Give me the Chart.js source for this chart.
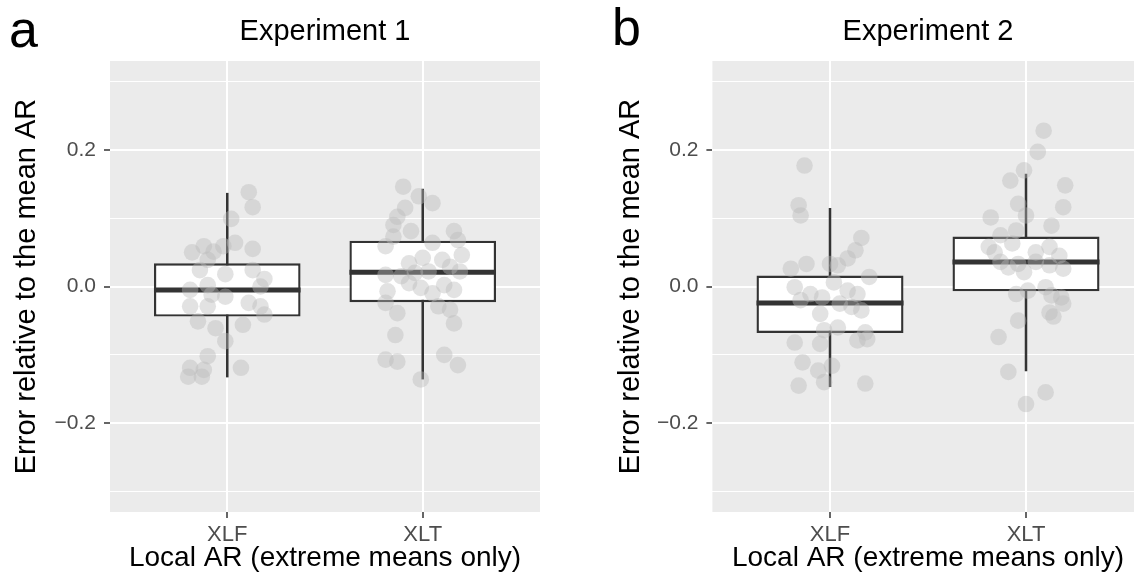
<!DOCTYPE html>
<html>
<head>
<meta charset="utf-8">
<script src="https://cdn.jsdelivr.net/npm/chart.js@4.4.1/dist/chart.umd.min.js"></script>
<style>
  html, body { margin: 0; padding: 0; background: #ffffff; overflow: hidden; width: 1134px; height: 579px; }
  .wrap { position: relative; width: 1134px; height: 579px; overflow: hidden; }
  canvas { position: absolute; top: 0; }
  .tag { position: absolute; font-family: 'Liberation Sans', Arial, Helvetica, sans-serif; font-size: 52px; line-height: 1; color: #000; }
</style>
</head>
<body>
<div class="wrap">
  <div class="tag" style="left:9px; top:3px;">a</div>
  <div class="tag" style="left:612px; top:1px;">b</div>
  <canvas id="chartA" width="560" height="579" style="left:0px;"></canvas>
  <canvas id="chartB" width="560" height="579" style="left:600px;"></canvas>
</div>
<script>
// ---------------- DATA ----------------
const categories = ['XLF', 'XLT'];
const yTickValues = [-0.3, -0.2, -0.1, 0.0, 0.1, 0.2, 0.3];
const yTickLabels = ['', '\u22120.2', '', '0.0', '', '0.2', ''];
const panelTitles = ['Experiment 1', 'Experiment 2'];
const xAxisTitle = 'Local AR (extreme means only)';
const yAxisTitle = 'Error relative to the mean AR';

// Box statistics: [lower whisker, Q1, median, Q3, upper whisker]
const exp1XLFStats = [-0.133, -0.044, -0.005, 0.034, 0.137];
const exp1XLTStats = [-0.136, -0.023, 0.021, 0.067, 0.143];
const exp2XLFStats = [-0.147, -0.068, -0.024, 0.016, 0.115];
const exp2XLTStats = [-0.124, -0.007, 0.036, 0.073, 0.165];

// Individual (jittered) points: values and horizontal jitter
const exp1XLFValues = [0.138, 0.116, 0.099, 0.050, 0.059, 0.051, 0.059, 0.064, 0.055, 0.039, 0.024, 0.018, 0.024, 0.011, 0.000, -0.005, 0.002, -0.012, -0.015, -0.029, -0.029, -0.024, -0.029, -0.041, -0.051, -0.061, -0.056, -0.080, -0.102, -0.119, -0.122, -0.132, -0.132, -0.119];
const exp1XLFJitter = [0.11, 0.13, 0.02, -0.18, -0.12, -0.07, -0.02, 0.04, 0.13, -0.10, -0.14, -0.01, 0.13, 0.19, 0.17, -0.19, -0.10, -0.08, -0.01, -0.19, -0.10, 0.11, 0.17, 0.19, -0.15, -0.06, 0.08, -0.01, -0.10, -0.19, -0.12, -0.20, -0.13, 0.07];

const exp1XLTValues = [0.146, 0.132, 0.122, 0.115, 0.102, 0.090, 0.081, 0.073, 0.081, 0.068, 0.059, 0.064, 0.046, 0.042, 0.039, 0.034, 0.029, 0.022, 0.017, 0.015, 0.020, 0.022, 0.005, 0.002, -0.005, -0.007, -0.002, -0.010, -0.024, -0.029, -0.034, -0.039, -0.054, -0.071, -0.107, -0.110, -0.100, -0.115, -0.136];
const exp1XLTJitter = [-0.10, -0.02, 0.05, -0.09, -0.13, -0.15, -0.06, -0.15, 0.16, 0.18, -0.19, 0.05, 0.20, 0.00, 0.10, -0.07, 0.14, 0.19, -0.19, -0.11, -0.04, 0.03, -0.07, 0.11, 0.16, -0.18, -0.01, 0.05, -0.19, 0.08, 0.14, -0.13, 0.16, -0.14, -0.19, -0.13, 0.11, 0.18, -0.01];

const exp2XLFValues = [0.177, 0.119, 0.104, 0.071, 0.053, 0.041, 0.033, 0.026, 0.033, 0.031, 0.014, 0.006, -0.001, -0.011, -0.016, -0.006, -0.011, -0.020, -0.025, -0.030, -0.035, -0.040, -0.060, -0.064, -0.067, -0.082, -0.084, -0.079, -0.077, -0.111, -0.123, -0.116, -0.140, -0.145, -0.142];
const exp2XLFJitter = [-0.13, -0.16, -0.15, 0.16, 0.13, 0.09, -0.12, -0.20, 0.00, 0.04, 0.20, 0.02, -0.18, -0.10, -0.04, 0.09, 0.14, -0.15, 0.05, 0.11, 0.16, -0.05, 0.04, -0.03, 0.18, -0.18, -0.05, 0.14, 0.19, -0.14, -0.06, 0.01, -0.03, -0.16, 0.18];

const exp2XLTValues = [0.228, 0.197, 0.170, 0.155, 0.148, 0.116, 0.121, 0.101, 0.104, 0.089, 0.082, 0.075, 0.058, 0.050, 0.063, 0.058, 0.050, 0.045, 0.036, 0.033, 0.036, 0.031, 0.026, 0.028, 0.021, -0.001, -0.011, -0.006, -0.013, -0.016, -0.025, -0.038, -0.044, -0.050, -0.074, -0.125, -0.155, -0.172];
const exp2XLTJitter = [0.09, 0.06, -0.01, -0.08, 0.20, 0.19, -0.04, -0.18, 0.00, 0.13, -0.05, -0.13, -0.19, -0.16, -0.07, 0.12, 0.05, 0.17, -0.13, -0.04, 0.05, 0.12, 0.19, -0.09, -0.01, 0.10, -0.05, 0.01, 0.13, 0.18, 0.19, 0.12, 0.14, -0.04, -0.14, -0.09, 0.10, 0.00];

// ---------------- STYLE / LAYOUT ----------------
const FONT = "'Liberation Sans', Arial, Helvetica, sans-serif";
const BOX_WIDTH = 0.75;
const PANEL_BG = '#EBEBEB';
const DARK = '#333333';
const POINT_COLOR = 'rgba(185,185,185,0.42)';

const panelBackground = {
  id: 'panelBackground',
  beforeDraw(chart) {
    const { ctx, chartArea: a } = chart;
    ctx.save();
    ctx.fillStyle = PANEL_BG;
    ctx.fillRect(a.left, a.top, a.right - a.left, a.bottom - a.top);
    ctx.restore();
  }
};

function buildChart(canvasId, title, statsList, valuesList, jitterList, yAxisWidth, rightPad, yTitlePad) {
  const datasets = [];
  // points (top layer)
  valuesList.forEach((vals, ci) => {
    datasets.push({
      type: 'scatter',
      data: vals.map((v, i) => ({ x: ci + 1 + jitterList[ci][i], y: v })),
      pointRadius: 8.3,
      pointHoverRadius: 8.3,
      pointBackgroundColor: POINT_COLOR,
      pointBorderWidth: 0,
      pointBorderColor: 'rgba(0,0,0,0)',
      showLine: false,
      order: 0
    });
  });
  // medians
  statsList.forEach((s, ci) => {
    datasets.push({
      type: 'scatter',
      data: [{ x: ci + 1 - BOX_WIDTH / 2, y: s[2] }, { x: ci + 1 + BOX_WIDTH / 2, y: s[2] }],
      showLine: true,
      borderColor: DARK,
      borderWidth: 5,
      borderCapStyle: 'butt',
      pointRadius: 0,
      order: 1
    });
  });
  // boxes (floating bars from Q1 to Q3)
  datasets.push({
    type: 'bar',
    data: statsList.map((s, ci) => ({ x: ci + 1, y: [s[1], s[3]] })),
    backgroundColor: '#FFFFFF',
    borderColor: DARK,
    borderWidth: 2.4,
    borderSkipped: false,
    categoryPercentage: 1.0,
    barPercentage: BOX_WIDTH,
    order: 2
  });
  // whiskers
  statsList.forEach((s, ci) => {
    datasets.push({
      type: 'scatter',
      data: [{ x: ci + 1, y: s[0] }, { x: ci + 1, y: s[4] }],
      showLine: true,
      borderColor: DARK,
      borderWidth: 2.5,
      pointRadius: 0,
      order: 3
    });
  });

  const majorSet = new Set([-0.2, 0, 0.2].map(v => v.toFixed(1)));
  const isMajor = (v) => majorSet.has(Number(v).toFixed(1));

  return new Chart(document.getElementById(canvasId), {
    type: 'scatter',
    data: { datasets },
    plugins: [panelBackground],
    options: {
      responsive: false,
      animation: false,
      devicePixelRatio: 1,
      layout: { padding: { left: 0, right: rightPad, top: 0, bottom: 0 } },
      plugins: {
        legend: { display: false },
        tooltip: { enabled: false },
        title: {
          display: true,
          text: title,
          fullSize: false,
          color: '#000000',
          font: { family: FONT, size: 29, weight: 'normal', lineHeight: 1.2 },
          padding: { top: 15, bottom: 11.2 }
        }
      },
      scales: {
        x: {
          type: 'linear',
          min: 0.4,
          max: 2.6,
          offset: false,
          border: { display: false },
          grid: {
            offset: false,
            color: '#FFFFFF',
            lineWidth: 2,
            drawTicks: true,
            tickLength: 6,
            tickColor: DARK,
            tickWidth: 1.5
          },
          afterBuildTicks(scale) {
            scale.ticks = categories.map((c, i) => ({ value: i + 1 }));
          },
          afterFit(scale) { scale.height = 67; },
          ticks: {
            autoSkip: false,
            maxRotation: 0,
            padding: 4,
            color: '#4D4D4D',
            font: { family: FONT, size: 22 },
            callback: (v) => categories[Math.round(v) - 1] || ''
          },
          title: {
            display: true,
            text: xAxisTitle,
            color: '#000000',
            font: { family: FONT, size: 28, lineHeight: 1.2 },
            padding: { top: 0, bottom: 4 }
          }
        },
        y: {
          type: 'linear',
          min: -0.33,
          max: 0.33,
          border: { display: false },
          grid: {
            color: '#FFFFFF',
            lineWidth: (ctx) => (ctx.tick && isMajor(ctx.tick.value)) ? 2 : 1,
            drawTicks: true,
            tickLength: 6,
            tickWidth: 1.5,
            tickColor: (ctx) => (ctx.tick && isMajor(ctx.tick.value)) ? DARK : 'rgba(0,0,0,0)'
          },
          afterBuildTicks(scale) {
            scale.ticks = yTickValues.map(v => ({ value: v }));
          },
          afterFit(scale) { scale.width = yAxisWidth; },
          ticks: {
            autoSkip: false,
            padding: 8,
            color: '#4D4D4D',
            font: { family: FONT, size: 21 },
            callback: (v) => {
              const idx = yTickValues.findIndex(t => Math.abs(t - v) < 1e-9);
              return idx >= 0 ? yTickLabels[idx] : '';
            }
          },
          title: {
            display: true,
            text: yAxisTitle,
            color: '#000000',
            font: { family: FONT, size: 29, lineHeight: 1.2 },
            padding: { top: yTitlePad, bottom: 0 }
          }
        }
      }
    }
  });
}

buildChart('chartA', panelTitles[0],
  [exp1XLFStats, exp1XLTStats],
  [exp1XLFValues, exp1XLTValues],
  [exp1XLFJitter, exp1XLTJitter],
  110, 20, 9.6);

buildChart('chartB', panelTitles[1],
  [exp2XLFStats, exp2XLTStats],
  [exp2XLFValues, exp2XLTValues],
  [exp2XLFJitter, exp2XLTJitter],
  112.4, 16.4, 13.6);
</script>
</body>
</html>
